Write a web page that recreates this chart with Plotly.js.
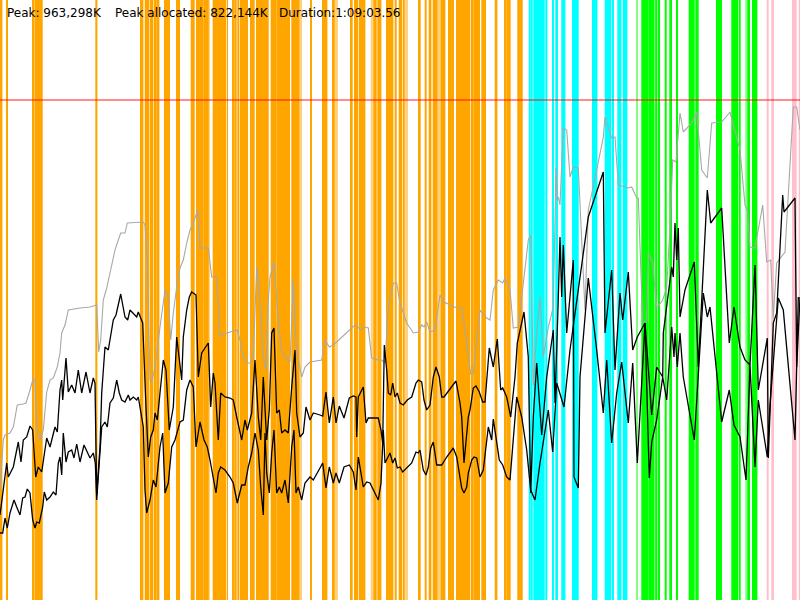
<!DOCTYPE html>
<html>
<head>
<meta charset="utf-8">
<script src="https://cdn.plot.ly/plotly-3.0.1.min.js"></script>
<style>html,body{margin:0;padding:0;background:#fff;}#chart{width:800px;height:600px;}</style>
</head>
<body>
<div id="chart"></div>
<script>
// ---- header labels ----
const headerLabels = ["Peak: 963,298K", "Peak allocated: 822,144K", "Duration:1:09:03.56"];

// ---- memory series (x = time position, y = memory level) ----
const peakX = [0,3.3,5,10,13.3,17.3,23.3,26,30,33.3,35,36.7,40,43.3,46.7,50,53.3,57.3,60,61.7,65,68.3,80,90,96.7,98.7,100.7,103.3,106.7,111.7,115,118.3,120.7,125,127.3,143.3,145,147.3,150,151.7,155,160,165,168.3,170.7,173.3,176.7,180,183.3,186.7,190,193.3,197.7,200,208.3,211.7,216.7,220,221.7,230,237.3,240,243.3,246.7,250,253.3,256.7,260,262.7,266,268.3,270,274,276.7,279.3,281.7,285,290,293.3,296,298.3,301.7,305,310,321.7,325,329.3,333.3,355,356.7,360,365,368.3,371.7,378.3,381.7,385,388.3,393.3,396.7,400,406.7,413.3,418.3,421.7,424,426.7,430,435,440,444,456.7,461.7,465,468.3,470.7,473.3,476.7,480,486.7,490,493.3,498.3,502.7,505,510,513.3,518.3,523.3,528.3,530.7,533.3,536.7,540,543.3,548.3,553.3,556,557.3,558.3,560,563.3,566.7,570,573.3,578.3,585,588.3,596.7,603.3,605,611.7,615,618.3,628.3,631.7,636.7,638.3,642.7,646.7,648.3,652.7,656.7,662.7,666.7,670,672.7,676,680,683.3,691.7,696.7,701.7,707.3,711.7,721.7,730,740,745,747.3,750,755,762.7,766.7,770.7,773.3,776.7,785,793.3,796.7,800];
const peakY = [110,160,165,167,173,195,196,197,210,222,220,173,160,170,208,220,222,233,247,267,275,290,292,293,295,248,260,300,312,333,350,360,367,367,377,378,375,340,220,218,233,273,310,303,260,287,313,332,340,357,370,377,390,352,352,323,323,263,265,268,270,260,243,237,237,243,333,300,247,230,300,323,338,300,267,250,243,238,320,257,240,223,233,238,240,260,253,255,275,275,270,273,272,242,240,240,237,293,317,317,297,277,267,268,275,273,278,268,270,305,298,292,292,270,243,226,227,257,290,282,280,310,320,317,322,310,272,273,317,360,365,215,267,303,243,273,293,432,400,403,395,472,470,423,433,432,290,390,430,463,483,462,463,415,412,413,402,402,278,278,347,337,292,300,312,373,440,438,487,468,477,488,430,422,477,478,488,450,395,390,353,352,395,338,340,282,337,348,493,493,470,453];

const totalX = [0,6.7,8.3,13.3,18.3,21,23.3,26.7,30,32.7,35.7,38.3,41.7,46.7,50,55,57.3,60,61.7,62.7,66,68.3,71.7,75,78.3,81.7,86,90,93.3,95,96.7,100,101.7,105,108.3,113.3,116,120.7,125,127.7,130,133.3,136.7,138.3,142.7,146,148.3,150.7,153.3,155,157.3,163.3,166,169.3,173.3,176.7,179.3,181.7,183.3,186.7,189.3,191.7,196,198.3,201.7,208.3,210.7,213.3,215,218.3,220.7,225,230,233.3,236.7,241.7,245,247.3,251.7,255,258.3,260.7,263.3,266.7,269.3,271.7,274,276.7,279.3,281.7,285,288.3,291.7,295,296.7,300,303.3,306,310,313.3,320,322.7,326,329.3,333.3,336,339.3,344,349.3,353.3,356,356.7,358.3,363.3,366,368.3,378.3,381,382.7,384.3,386.7,388.3,390.7,392.7,395,397.3,400,403.3,407.3,411.7,416,418.3,421.7,424,426.7,430,433.3,436,439.3,441.7,444,456,460,461.7,464,466,468.3,470,473.3,476,479.3,482.7,485,489.3,493.3,497.3,500.7,502.7,506.7,510.7,515,517.3,524,528.3,530.7,533.3,536.7,541.7,546.7,553.3,555,558.3,560,561.7,563.3,566.7,573.3,574,578.3,580,588.3,596.7,603.3,606.7,611.7,616.7,621.7,628.3,632.7,637.3,645,649.3,651.7,656.7,662.7,666.7,669.3,671.7,674,675,677.3,680,683.3,694.3,703.3,707.3,710,721.7,729.3,734,740,746,750,755,758.3,767.3,770,778.3,783.3,795,798.3];
const totalY = [85,137,123,133,158,138,160,163,174,170,123,133,128,162,153,173,168,210,220,200,242,208,215,207,230,207,228,207,222,217,105,153,207,253,250,280,285,306,283,280,290,287,283,288,277,193,143,163,170,187,180,240,230,170,193,263,243,220,263,290,303,308,305,223,247,257,193,227,217,160,207,203,202,200,183,160,180,170,187,240,183,160,223,160,190,267,272,187,190,167,170,167,213,250,187,163,167,193,180,187,185,184,208,177,203,177,194,182,202,204,203,163,203,213,177,182,182,170,157,255,230,207,205,217,203,207,197,195,200,203,217,220,218,200,190,195,223,233,223,203,203,219,197,183,137,157,183,190,212,214,208,198,198,252,233,261,210,212,203,183,223,257,288,243,107,183,237,165,223,270,197,302,363,303,355,267,340,123,112,223,322,250,187,240,157,207,238,177,237,137,277,122,158,180,223,200,233,273,243,267,233,267,223,160,307,283,293,178,210,175,163,120,235,133,200,143,195,302,290,160,303];

const allocX = [0,2.7,5,7.3,10,14,16.7,20,22.7,25,27.3,30,32.7,35,36.7,39.3,42.7,44.3,46.7,50,53.3,56,58.3,60,61.7,63.3,66,68.3,71.7,74,76.7,80,84,87.3,90,93.3,95.3,96.7,98.7,101.7,105,107.3,110,113.3,116.7,119.3,121.7,125,128.3,130,133.3,136.7,138.3,143.3,145,146.7,150,153.3,156,160,162.7,165,168.3,171.7,175,180,183.3,186.7,190,193.3,196,200,204,207.3,210,212.7,216,218.3,220.7,225,230,233.3,237.3,241.7,245,248.3,251.7,255,258.3,260.7,263.3,265,266.7,269.3,271.7,274,276.7,279.3,281.7,285,288.3,291.7,294,296,298.3,301.7,305,310,313.3,320,322.7,326,329.3,333.3,336,339.3,344,349.3,353.3,356,358.3,363.3,366.7,370,373.3,378.3,381,383.3,385,390,392.7,395,397.3,400,402.7,407.3,411.7,416,418.3,420,423.3,426,428.3,430.7,433.3,436.7,441.7,446.7,453.3,456.7,460,461.7,464,466.7,468.3,471.7,474,476.7,480,483.3,488.3,491.7,493.3,496.7,499.3,502.7,506.7,510,513.3,516.7,521.7,526.7,530.7,535,540,548.3,552.7,556.7,564,570,588.3,603.3,605,611.7,615,620,622.7,628.3,632.7,637.3,645,651.7,656.7,662.7,663.3,669.3,671.7,673.3,675,676.7,678.3,680,685,694.3,698.3,707.3,710.7,721.7,729.3,734,740,745,750,755,758.3,767.3,768.3,773.3,776.7,782.7,784,795,796.7,800];
const allocY = [67,67,82,72,87,100,93,85,102,103,111,107,80,72,78,77,93,108,100,103,108,105,137,143,125,167,138,148,150,142,156,138,155,148,142,147,137,100,133,173,178,173,197,202,220,207,200,198,205,200,203,200,203,173,110,87,100,120,113,153,167,107,117,153,160,178,180,210,220,213,153,178,160,153,140,123,107,127,133,130,123,117,97,115,115,133,147,167,150,113,85,167,127,107,147,170,107,113,107,120,97,153,170,107,113,100,117,123,120,132,137,112,133,117,127,117,133,135,128,110,143,113,118,117,110,100,117,170,137,147,137,142,132,133,128,133,137,148,147,150,130,125,133,152,158,135,135,143,152,143,123,112,107,113,127,140,143,142,123,130,173,160,181,160,140,135,123,120,157,203,183,150,110,100,137,190,148,217,193,250,383,428,267,330,230,307,280,328,250,263,277,185,233,223,267,313,333,323,377,340,372,283,310,338,233,410,377,392,257,293,253,240,235,335,210,262,142,277,287,405,388,402,233,303];

// ---- event markers: [start, end] along the time axis ----
const orangeSpans = [[0,1.7],[6,7.3],[32,33.3],[34.7,42],[95.3,96.7],[140,142.7],[144.7,148.7],[150,152.7],[154,156],[156.7,158.7],[164,169.3],[176,179.3],[190.7,194],[196,202.7],[203.3,208],[212.7,221.3],[222,223.3],[224,225.3],[226.7,227.3],[232,234],[234.7,236],[237.3,238.7],[240,247.3],[250,254],[256,268],[270.7,276],[276.7,285.3],[286,289.3],[291.3,298.7],[310,311.3],[322,326.7],[332,334],[350,352],[354,357.3],[358.7,364.7],[373.3,376],[377.3,380.7],[386,392.7],[394.7,396],[398.7,401.3],[402.7,404],[418,420],[424.7,426],[428.7,430.7],[432.7,436.7],[440.7,444.7],[448,453.3],[456,469.3],[470.7,472.7],[473.3,479.3],[481.3,485.3],[494.7,496.7],[504,506],[506.7,510],[517.3,522]];
const orangeFaintSpans = [[33.3,34.7],[208,209.3],[298.7,301.3],[334,337.3],[370.7,372.7],[404.7,407.3],[436.7,440.7]];
const cyanSpans = [[528.7,530],[530.7,532],[533.3,544],[545.3,546.7],[552,553.3],[555.3,557.3],[561.3,564.7],[572,578],[592,596.7],[604.7,610.7],[612,613.3],[617.3,620.7],[622.7,626.7]];
const greenSpans = [[641.3,648],[648.7,653.3],[655.3,656.7],[658,659.3],[664.7,666],[669.3,671.3],[676,677.3],[688.7,694],[695.3,698],[716,721.3],[731.3,733.3],[734,737.3],[738.7,740],[747.3,749.3],[752,756.7]];
const greenFaintSpans = [[636,637.3],[653.3,655.3],[745.3,746.7]];
const pinkSpans = [[766.7,768],[771.3,773.3],[792,793.3],[794,796],[798.7,800]];

// ---- limit level ----
const limitLevel = [500];

const shapes = [];
function addSpans(spans, color, opacity) {
  spans.forEach(s => shapes.push({
    type: 'rect', xref: 'x', yref: 'paper', x0: s[0], x1: s[1] + 0.7, y0: 0, y1: 1,
    fillcolor: color, opacity: opacity, line: {width: 0}, layer: 'below'
  }));
}
addSpans(orangeSpans, '#ffa500', 1);
addSpans(orangeFaintSpans, '#ffa500', 0.5);
addSpans(cyanSpans, '#00ffff', 1);
addSpans(greenSpans, '#00ff00', 1);
addSpans(greenFaintSpans, '#00ff00', 0.5);
addSpans(pinkSpans, '#ffc0cb', 1);
limitLevel.forEach(v => shapes.push({
  type: 'line', xref: 'paper', yref: 'y', x0: 0, x1: 1, y0: v, y1: v,
  line: {color: 'rgba(255,0,0,0.6)', width: 1.6}, layer: 'above'
}));

const traces = [
  {x: peakX, y: peakY, type: 'scatter', mode: 'lines', line: {color: '#a8a8a8', width: 1.1}, hoverinfo: 'skip'},
  {x: totalX, y: totalY, type: 'scatter', mode: 'lines', line: {color: '#000000', width: 1.3}, hoverinfo: 'skip'},
  {x: allocX, y: allocY, type: 'scatter', mode: 'lines', line: {color: '#000000', width: 1.3}, hoverinfo: 'skip'}
];

const labelPos = [5, 113, 277];
const annotations = headerLabels.map((t, i) => ({
  text: t, xref: 'paper', yref: 'paper', x: labelPos[i] / 800, y: 1 - 4 / 600,
  xanchor: 'left', yanchor: 'top', showarrow: false,
  font: {family: 'DejaVu Sans, sans-serif', size: 12, color: '#000'}
}));

const layout = {
  width: 800, height: 600,
  margin: {l: 0, r: 0, t: 0, b: 0, pad: 0},
  paper_bgcolor: '#ffffff', plot_bgcolor: '#ffffff',
  showlegend: false,
  xaxis: {range: [0, 800], visible: false, fixedrange: true},
  yaxis: {range: [0, 600], visible: false, fixedrange: true},
  shapes: shapes,
  annotations: annotations
};

Plotly.newPlot('chart', traces, layout, {staticPlot: true, displayModeBar: false});
</script>
</body>
</html>
